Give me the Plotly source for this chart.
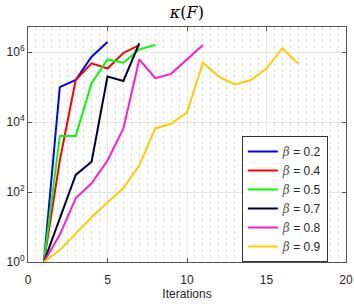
import plotly.graph_objects as go

betas = ["0.2", "0.4", "0.5", "0.7", "0.8", "0.9"]
colors = ["#0000ff", "#ff0000", "#00ff00", "#000033", "#ff1dce", "#ffcc00"]

kappa_02 = [1, 1.0e5, 1.6e5, 7.4e5, 1.95e6]
kappa_04 = [1, 800, 1.6e5, 4.8e5, 3.4e5, 9.5e5, 1.6e6]
kappa_05 = [1, 4.0e3, 4.0e3, 1.3e5, 6.2e5, 5.0e5, 1.2e6, 1.6e6]
kappa_07 = [1, 17, 310, 740, 2.0e5, 1.5e5, 1.8e6]
kappa_08 = [1, 6, 66, 178, 800, 6.6e3, 6.2e5, 1.8e5, 2.4e5, 6.3e5, 1.6e6]
kappa_09 = [1, 2.2, 6.5, 19, 50, 130, 580, 6.6e3, 9.0e3, 1.9e4, 5.0e5,
            2.0e5, 1.2e5, 1.6e5, 3.4e5, 1.3e6, 4.7e5]
series = [kappa_02, kappa_04, kappa_05, kappa_07, kappa_08, kappa_09]

ytick_vals = [1, 1e2, 1e4, 1e6]
ytick_text = ["10<sup>0</sup>", "10<sup>2</sup>", "10<sup>4</sup>", "10<sup>6</sup>"]
xtick_vals = [0, 5, 10, 15, 20]

fig = go.Figure()
for b, c, ys in zip(betas, colors, series):
    fig.add_trace(go.Scatter(
        x=list(range(1, len(ys) + 1)), y=ys, mode="lines",
        line=dict(color=c, width=2),
        name=f"<i><span style='font-family:DejaVu Serif;color:#555'>β</span></i> = {b}",
    ))

axis_common = dict(
    showline=True, linecolor="#555555", linewidth=1, mirror="allticks",
    ticks="inside", ticklen=4, tickcolor="#555555",
    showgrid=True, gridcolor="#e4e4e4", gridwidth=1, zeroline=False,
    automargin=False,
    tickfont=dict(family="Liberation Sans", size=12, color="#262626"),
)

fig.update_layout(
    width=354, height=304,
    margin=dict(l=28, r=7.5, t=26.5, b=42),
    paper_bgcolor="white", plot_bgcolor="white",
    title=dict(text="<i>κ</i>(<i>F</i>)", x=0.528, xanchor="center", y=0.958, yanchor="middle",
               font=dict(family="DejaVu Serif", size=16, color="black")),
    xaxis=dict(range=[0, 20], tickvals=xtick_vals, ticklabelstandoff=7,
               title=dict(text="Iterations", standoff=2,
                          font=dict(family="Liberation Sans", size=12, color="#262626")),
               minor=dict(dtick=0.5, showgrid=True, gridcolor="#e0e0e0", griddash="dot", ticks=""),
               **axis_common),
    yaxis=dict(type="log", range=[0, 6.72], tickvals=ytick_vals, ticktext=ytick_text,
               ticklabelstandoff=0, **axis_common),
    legend=dict(x=0.943, y=0.0, xanchor="right", yanchor="bottom",
                bgcolor="white", bordercolor="#333333", borderwidth=1,
                font=dict(family="Liberation Sans", size=12, color="#262626"),
                itemwidth=30, tracegroupgap=0),
    showlegend=True,
)

fig.write_html("out.html", config={"displayModeBar": False},
               post_script="document.body.style.margin='0';")
